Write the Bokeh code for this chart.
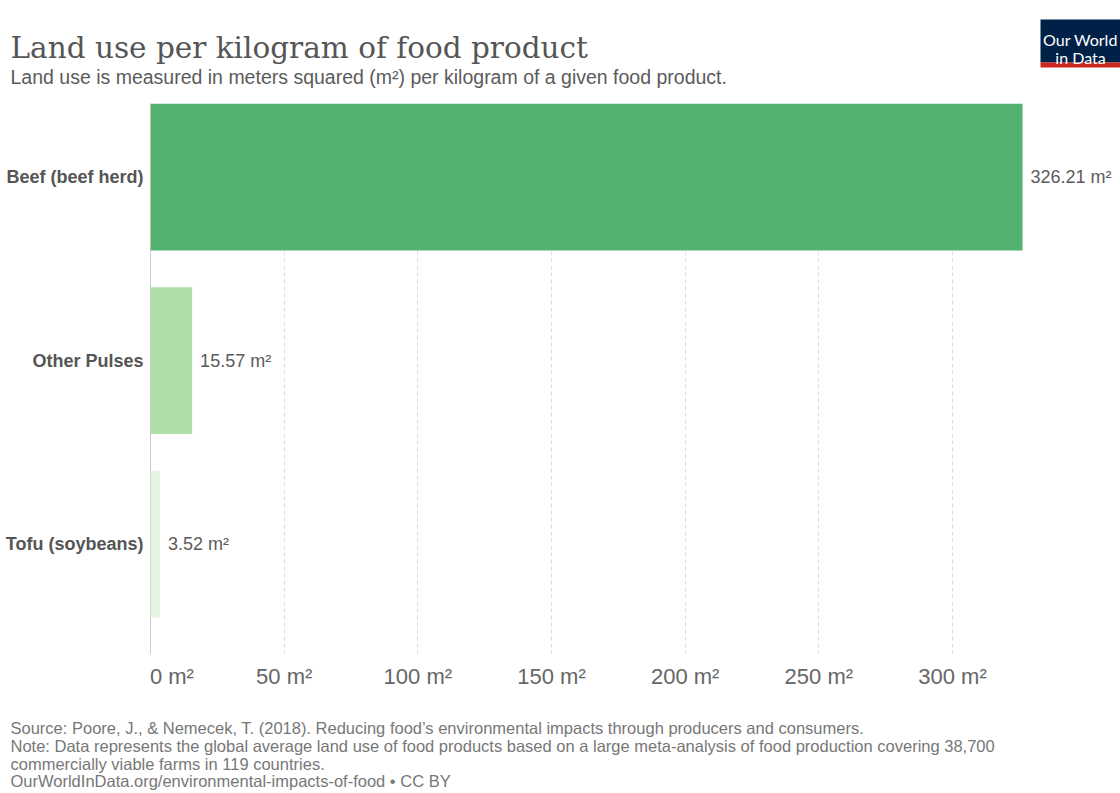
from bokeh.plotting import figure
from bokeh.layouts import column, row
from bokeh.models import Range1d, FixedTicker, Span, ColumnDataSource
from bokeh.core.properties import value
from bokeh.embed import file_html
from bokeh.resources import INLINE

# ---- data ----
categories = ["Tofu (soybeans)", "Other Pulses", "Beef (beef herd)"]
land_use = [3.52, 15.57, 326.21]
bar_colors = ["#e6f5e1", "#aedfa9", "#53b270"]
x_ticks = [0, 50, 100, 150, 200, 250, 300]
tick_labels = ["0 m²", "50 m²", "100 m²", "150 m²", "200 m²", "250 m²", "300 m²"]

title_text = "Land use per kilogram of food product"
subtitle_text = "Land use is measured in meters squared (m²) per kilogram of a given food product."
footer_lines = [
    "Source: Poore, J., & Nemecek, T. (2018). Reducing food’s environmental impacts through producers and consumers.",
    "Note: Data represents the global average land use of food products based on a large meta-analysis of food production covering 38,700",
    "commercially viable farms in 119 countries.",
    "OurWorldInData.org/environmental-impacts-of-food • CC BY",
]

W, H = 1120, 793
HEAD_H = 95
FOOT_TOP = 705
FL, FR, FT, FB = 150, 1118, 103, 654  # frame edges in canvas px
X0, X1 = 0, 362.1
Y0, Y1 = -0.6, 2.4


def strip(top, bottom):
    h = bottom - top
    f = figure(width=W, height=h, output_backend="svg", toolbar_location=None,
               x_range=Range1d(0, W), y_range=Range1d(bottom, top),
               x_axis_location=None, y_axis_location=None,
               min_border=0, min_border_left=0, min_border_right=0,
               min_border_top=0, min_border_bottom=0)
    f.outline_line_color = None
    f.grid.grid_line_color = None
    f.background_fill_color = "white"
    f.border_fill_color = "white"
    return f


def txt(f, text, x, y, size, color, font="Liberation Sans", align="left"):
    f.text(x=[x], y=[y], text=[text], text_font=value(font), text_font_size=size,
           text_color=color, text_align=align, text_baseline="alphabetic")


# ---- header ----
head = strip(0, HEAD_H)
txt(head, title_text, 10, 47, "29.5px", "#555555", font="DejaVu Serif")
txt(head, subtitle_text, 10, 76, "19.5px", "#5b5b5b")
head.quad(left=[1040], right=[1120], top=[19], bottom=[62], fill_color="#002147", line_color=None)
head.quad(left=[1040], right=[1120], top=[62], bottom=[67], fill_color="#ce261e", line_color=None)
txt(head, "Our World", 1080, 39, "16px", "white", font="Lato", align="center")
txt(head, "in Data", 1080, 57, "16px", "white", font="Lato", align="center")

# ---- main chart ----
ypos = list(range(len(categories)))
src = ColumnDataSource(dict(
    y=ypos, v=land_use, color=bar_colors,
    lab=[f"{v:.2f} m²" for v in land_use],
))

p = figure(width=W, height=FOOT_TOP - HEAD_H, output_backend="svg", toolbar_location=None,
           x_range=Range1d(X0, X1), y_range=Range1d(Y0, Y1),
           min_border_left=FL, min_border_right=W - FR,
           min_border_top=FT - HEAD_H, min_border_bottom=FOOT_TOP - FB)
p.outline_line_color = None
p.background_fill_color = "white"
p.border_fill_color = "white"

p.ygrid.grid_line_color = None
p.xgrid.ticker = FixedTicker(ticks=x_ticks)
p.xgrid.grid_line_color = "#dddddd"
p.xgrid.grid_line_dash = "4 3"
p.xgrid.grid_line_width = 1

p.add_layout(Span(location=0, dimension="height", line_color="#9a9a9a", line_width=1, level="underlay"))

p.hbar(y="y", right="v", left=0, height=0.8, color="color", line_color=None, source=src)

p.text(x="v", y="y", text="lab", source=src, x_offset=8,
       text_font=value("Liberation Sans"), text_font_size="18px", text_color="#5b5b5b",
       text_baseline="middle", text_align="left")

p.xaxis.ticker = FixedTicker(ticks=x_ticks)
overrides = {t: l for t, l in zip(x_ticks, tick_labels)}
overrides[x_ticks[0]] = "\u00a0" * 7 + tick_labels[0]  # first label sits right of the zero line
p.xaxis.major_label_overrides = overrides
p.xaxis.axis_line_color = None
p.xaxis.major_tick_line_color = None
p.xaxis.minor_tick_line_color = None
p.xaxis.major_tick_in = 0
p.xaxis.major_tick_out = 0
p.xaxis.minor_tick_in = 0
p.xaxis.minor_tick_out = 0
p.xaxis.major_label_text_font = "Liberation Sans"
p.xaxis.major_label_text_font_size = "22px"
p.xaxis.major_label_text_color = "#666666"
p.xaxis.major_label_standoff = 9

p.yaxis.ticker = FixedTicker(ticks=ypos)
p.yaxis.major_label_overrides = {i: c for i, c in zip(ypos, categories)}
p.yaxis.axis_line_color = None
p.yaxis.major_tick_line_color = None
p.yaxis.minor_tick_line_color = None
p.yaxis.major_tick_in = 0
p.yaxis.major_tick_out = 0
p.yaxis.minor_tick_in = 0
p.yaxis.minor_tick_out = 0
p.yaxis.major_label_text_font = "Liberation Sans"
p.yaxis.major_label_text_font_style = "bold"
p.yaxis.major_label_text_font_size = "18px"
p.yaxis.major_label_text_color = "#555555"
p.yaxis.major_label_standoff = 7

# ---- footer ----
foot = strip(FOOT_TOP, H)
foot_y = [727, 745, 763, 780]
for line, yy in zip(footer_lines, foot_y):
    txt(foot, line, 10, yy, "16.5px", "#777777")

layout = column(row(head), row(p), row(foot), spacing=0)
open("out.html", "w").write(file_html(layout, INLINE))
